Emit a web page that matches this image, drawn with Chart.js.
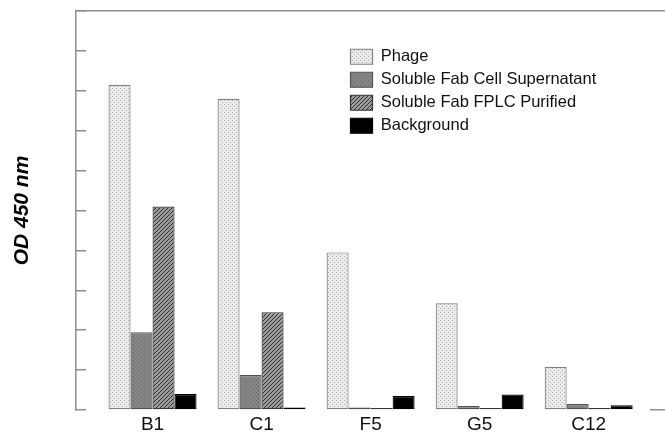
<!DOCTYPE html>
<html>
<head>
<meta charset="utf-8">
<script src="https://cdn.jsdelivr.net/npm/chart.js@4"></script>
<style>
  html, body { margin: 0; padding: 0; background: #fff; overflow: hidden; }
  #chart { display: block; }
</style>
</head>
<body>
<canvas id="chart" width="665" height="433"></canvas>
<script>
const categories = ['B1', 'C1', 'F5', 'G5', 'C12'];
const phage = [1.63, 1.56, 0.79, 0.535, 0.215];
const supernatant = [0.39, 0.175, 0.012, 0.02, 0.03];
const fplcPurified = [1.02, 0.49, 0, 0, 0];
const background = [0.08, 0.012, 0.07, 0.078, 0.024];

const seriesNames = ['Phage', 'Soluble Fab Cell Supernatant', 'Soluble Fab FPLC Purified', 'Background'];

const FONT = "'Liberation Sans', Arial, sans-serif";
const AXIS_GRAY = '#8c8c8c';

const canvas = document.getElementById('chart');
const ctx = canvas.getContext('2d');

// small repeating tiles to mimic the stipple / hatch fills
const makePattern = (size, paint) => {
  const tile = document.createElement('canvas');
  tile.width = size;
  tile.height = size;
  paint(tile.getContext('2d'));
  return ctx.createPattern(tile, 'repeat');
};

const dotted = (bg, dot) => makePattern(4, (t) => {
  t.fillStyle = bg;
  t.fillRect(0, 0, 4, 4);
  t.fillStyle = dot;
  t.fillRect(0, 0, 1, 1);
  t.fillRect(2, 2, 1, 1);
});

const hatched = (bg, line) => makePattern(4, (t) => {
  t.fillStyle = bg;
  t.fillRect(0, 0, 4, 4);
  t.fillStyle = line;
  for (let i = 0; i < 4; i++) t.fillRect(3 - i, i, 1, 1);
});

const phageFill = dotted('#ebebeb', '#b0b0b0');
const supernatantFill = dotted('#858585', '#686868');
const fplcFill = hatched('#9c9c9c', '#303030');

const toPoints = (values) => values.map((v, i) => ({x: i + 1, y: v}));

const makeDataset = (label, values, fill, border) => ({
  label: label,
  data: toPoints(values),
  backgroundColor: fill,
  borderColor: border,
  borderWidth: 1.2,
  borderSkipped: false,
  minBarLength: 2,
  barPercentage: 1.0,
  categoryPercentage: 0.807
});

// move the legend into the plot, right of the C1 group
const legendPlacer = {
  id: 'legendPlacer',
  afterLayout(chart) {
    const lg = chart.legend;
    if (!lg) return;
    const w = lg.width;
    const h = lg.height;
    lg.left = chart.chartArea.left + 268;
    lg.top = chart.chartArea.top + 31;
    lg.right = lg.left + w;
    lg.bottom = lg.top + h;
  }
};

const config = {
  type: 'bar',
  data: {
    datasets: [
      makeDataset(seriesNames[0], phage, phageFill, '#808080'),
      makeDataset(seriesNames[1], supernatant, supernatantFill, '#505050'),
      makeDataset(seriesNames[2], fplcPurified, fplcFill, '#333333'),
      makeDataset(seriesNames[3], background, '#000000', '#000000')
    ]
  },
  options: {
    responsive: false,
    animation: false,
    devicePixelRatio: 1,
    layout: { padding: { left: 0, top: 11, right: 0, bottom: 0 } },
    plugins: {
      tooltip: { enabled: false },
      legend: {
        position: 'chartArea',
        align: 'start',
        labels: {
          boxWidth: 22,
          boxHeight: 15,
          padding: 6.5,
          color: '#111',
          font: { family: FONT, size: 16.5 }
        }
      }
    },
    scales: {
      x: {
        type: 'linear',
        position: 'bottom',
        bounds: 'data',
        offset: false,
        min: 0.298,
        max: 5.70,
        border: { display: false },
        grid: { display: false, drawTicks: false, offset: false },
        ticks: {
          autoSkip: false,
          maxRotation: 0,
          padding: 3,
          color: '#111',
          font: { family: FONT, size: 19 },
          callback: (v) => categories[v - 1] || ''
        },
        // one tick per category group
        afterBuildTicks: (scale) => {
          scale.ticks = categories.map((c, i) => ({value: i + 1}));
        },
        afterFit: (scale) => { scale.height = 23; }
      },
      x2: {
        axis: 'x',
        type: 'linear',
        position: 'top',
        min: 0,
        max: 1,
        border: { display: true, color: AXIS_GRAY, width: 1.5 },
        grid: { display: false, drawTicks: false },
        ticks: { display: false },
        afterFit: (scale) => { scale.height = 0; }
      },
      y: {
        type: 'linear',
        position: 'left',
        min: 0,
        max: 2.0,
        border: { display: true, color: AXIS_GRAY, width: 1.5 },
        grid: {
          display: true,
          drawOnChartArea: false,
          drawTicks: true,
          tickLength: -10,
          color: AXIS_GRAY,
          lineWidth: 1.5
        },
        ticks: { display: false, stepSize: 0.2 },
        title: {
          display: true,
          text: 'OD 450 nm',
          color: '#000',
          padding: { top: 10, bottom: 0 },
          font: { family: FONT, size: 21, weight: 'bold', style: 'italic' }
        },
        afterFit: (scale) => { scale.width = 76; }
      },
      y2: {
        axis: 'y',
        type: 'linear',
        position: 'right',
        min: 0,
        max: 2.0,
        border: { display: false },
        grid: {
          display: true,
          drawOnChartArea: false,
          drawTicks: true,
          tickLength: -15,
          lineWidth: 1.5,
          color: (c) => (c.tick && c.tick.value === 0 ? AXIS_GRAY : 'rgba(0,0,0,0)')
        },
        ticks: { display: false, stepSize: 0.2 },
        afterFit: (scale) => { scale.width = 0; }
      }
    }
  },
  plugins: [legendPlacer]
};

const chart = new Chart(canvas, config);
</script>
</body>
</html>
